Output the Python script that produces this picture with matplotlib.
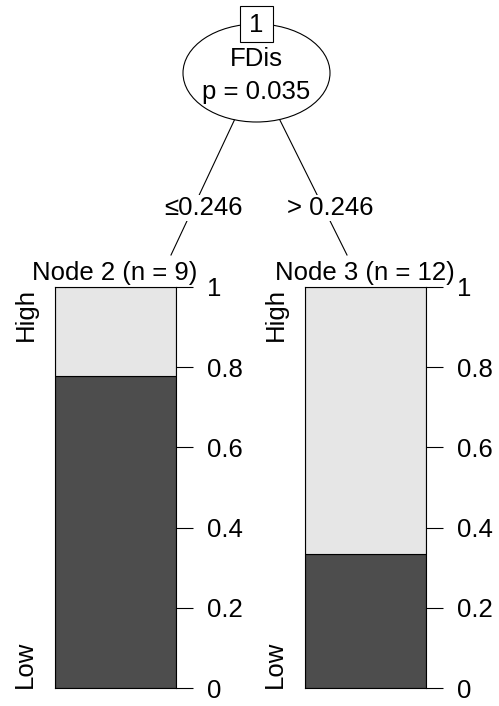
import matplotlib
matplotlib.use('Agg')
import matplotlib.pyplot as plt
from matplotlib.patches import Ellipse, Rectangle

plt.rcParams['font.family'] = ['Liberation Sans', 'DejaVu Sans']

# tree data
split_var = 'FDis'
p_value = 'p = 0.035'
split_labels = ['\u22640.246', '> 0.246']
node_titles = ['Node 2 (n = 9)', 'Node 3 (n = 12)']
classes = ['Low', 'High']
low_share = [7 / 9, 4 / 12]
yticks = [0, 0.2, 0.4, 0.6, 0.8, 1]
ytick_labels = ['0', '0.2', '0.4', '0.6', '0.8', '1']

W, H = 499, 706
FS = 18.5
fig = plt.figure(figsize=(W / 100, H / 100), dpi=100)

# main canvas in pixel units for the tree part
ax = fig.add_axes([0, 0, 1, 1])
ax.set_xlim(0, W)
ax.set_ylim(H, 0)
ax.axis('off')

# edges, drawn from the node centre, hidden under the ellipse
cx0, cy0 = 256.5, 73
ax.plot([cx0, 171], [cy0, 255], color='black', lw=0.8, zorder=1)
ax.plot([cx0, 347], [cy0, 255], color='black', lw=0.8, zorder=1)
ax.text(204, 208, split_labels[0], ha='center', va='center', fontsize=FS, zorder=3,
        bbox=dict(boxstyle='square,pad=0.05', fc='white', ec='none'))
ax.text(330, 208, split_labels[1], ha='center', va='center', fontsize=FS, zorder=3,
        bbox=dict(boxstyle='square,pad=0.05', fc='white', ec='none'))

# inner node
ax.add_patch(Ellipse((cx0, cy0), 147, 98, fc='white', ec='black', lw=0.8, zorder=2))
ax.add_patch(Rectangle((240, 6), 33, 36, fc='white', ec='black', lw=0.8, zorder=3))
ax.text(cx0, 25, '1', ha='center', va='center', fontsize=FS, zorder=4)
ax.text(cx0, 59, split_var, ha='center', va='center', fontsize=FS, zorder=4)
ax.text(cx0, 92, p_value, ha='center', va='center', fontsize=FS, zorder=4)

# terminal nodes
lefts = [55, 305]
bar_w, top, bottom = 121, 287, 688
for i, left in enumerate(lefts):
    bx = fig.add_axes([left / W, (H - bottom) / H, bar_w / W, (bottom - top) / H])
    bx.bar([0.5], [low_share[i]], width=1, color='#4D4D4D', ec='black', lw=0.8)
    bx.bar([0.5], [1 - low_share[i]], bottom=[low_share[i]], width=1,
           color='#E6E6E6', ec='black', lw=0.8)
    bx.set_xlim(0, 1)
    bx.set_ylim(0, 1)
    bx.set_xticks([])
    bx.yaxis.tick_right()
    bx.set_yticks(yticks)
    bx.set_yticklabels(ytick_labels)
    bx.tick_params(axis='y', length=12, width=0.8, labelsize=FS, pad=10)
    for s in bx.spines.values():
        s.set_linewidth(0.8)
    cx = left + bar_w / 2
    ax.text(cx - 1, 273, node_titles[i], ha='center', va='center', fontsize=FS)
    ax.text(left - 29, top + 1, classes[1], rotation=90, ha='center', va='top', fontsize=FS)
    ax.text(left - 30, bottom, classes[0], rotation=90, ha='center', va='bottom', fontsize=FS)

fig.savefig('out.png', dpi=100)
